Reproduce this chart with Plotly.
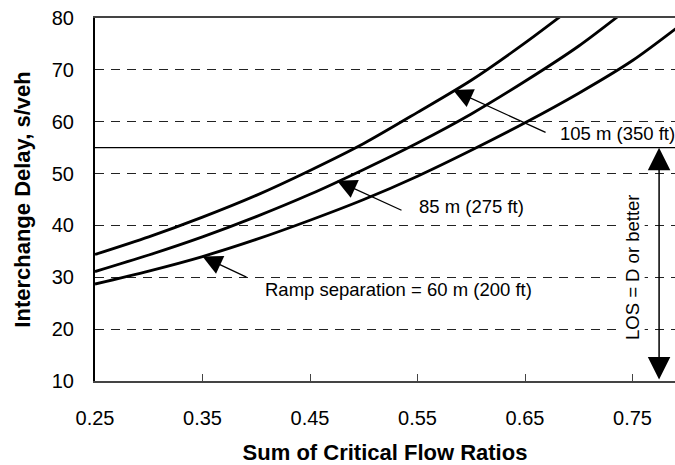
import plotly.graph_objects as go

# Sum of critical flow ratios (x) sampled every 0.05
flow_ratio = [0.25, 0.30, 0.35, 0.40, 0.45, 0.50, 0.55, 0.60, 0.65, 0.70, 0.75, 0.80]

# Interchange delay (s/veh) for each ramp separation
delay_105m = [34.4, 37.8, 41.6, 45.8, 50.6, 55.8, 61.8, 68.0, 75.2, 83.0, None, None]
delay_85m = [31.1, 34.3, 37.8, 41.7, 46.0, 50.8, 55.9, 61.5, 67.8, 74.6, 82.5, None]
delay_60m = [28.7, 31.2, 34.0, 37.3, 41.0, 45.0, 49.5, 54.5, 59.8, 65.5, 71.8, 79.5]

x_ticks = [0.25, 0.35, 0.45, 0.55, 0.65, 0.75]
y_ticks = [10, 20, 30, 40, 50, 60, 70, 80]
los_threshold = 55

FONT = "Liberation Sans, Arial, sans-serif"

fig = go.Figure()
for ys, name in [(delay_105m, "105 m (350 ft)"), (delay_85m, "85 m (275 ft)"),
                 (delay_60m, "Ramp separation = 60 m (200 ft)")]:
    fig.add_trace(go.Scatter(
        x=flow_ratio, y=ys, mode="lines", name=name,
        line=dict(color="black", width=2.8, shape="spline", smoothing=0.8),
        connectgaps=False, showlegend=False, hoverinfo="skip"))

# LOS D threshold line
fig.add_shape(type="line", xref="paper", x0=0, x1=1, yref="y", y0=los_threshold, y1=los_threshold,
              line=dict(color="black", width=1.3))

# Curve labels with leader arrows
labels = [
    # text, tip x, tip y, tail x, tail y, text x, text y
    ("105 m (350 ft)", 0.583, 66.1, 0.6705, 57.8, 0.6807, 57.8),
    ("85 m (275 ft)", 0.4751, 48.6, 0.5365, 42.8, 0.5495, 43.6),
    ("Ramp separation = 60 m (200 ft)", 0.35, 34.0, 0.3923, 29.9, 0.4065, 27.6),
]
for text, tx, ty, ax, ay, lx, ly in labels:
    fig.add_annotation(x=tx, y=ty, ax=ax, ay=ay, xref="x", yref="y", axref="x", ayref="y",
                       text="", showarrow=True, arrowhead=2, arrowsize=3.0, arrowwidth=1.3,
                       arrowcolor="black", standoff=0)
    fig.add_annotation(x=lx, y=ly, xref="x", yref="y", text=text, showarrow=False,
                       xanchor="left", yanchor="middle",
                       font=dict(family=FONT, size=18.5, color="black"))

# Double-headed arrow marking the LOS D-or-better range
fig.add_annotation(x=0.7747, y=los_threshold, ax=0.7747, ay=10, xref="x", yref="y",
                   axref="x", ayref="y", text="", showarrow=True,
                   arrowhead=2, startarrowhead=2, arrowside="end+start",
                   arrowsize=3.0, startarrowsize=3.0, arrowwidth=1.5,
                   arrowcolor="black", standoff=0, startstandoff=0)
fig.add_annotation(x=0.7505, y=32.0, xref="x", yref="y", text="LOS = D or better",
                   showarrow=False, textangle=-90, bgcolor="white",
                   font=dict(family=FONT, size=18.5, color="black"))

fig.update_layout(
    width=675, height=465,
    margin=dict(l=95, r=0, t=18, b=84),
    paper_bgcolor="white", plot_bgcolor="white",
    font=dict(family=FONT, color="black"),
    showlegend=False,
)
fig.update_xaxes(
    range=[0.25, 0.7895], tickvals=x_ticks, ticktext=[f"{v:.2f}" for v in x_ticks],
    showgrid=False, zeroline=False, automargin=False,
    showline=True, linecolor="#444444", linewidth=2, mirror=True,
    ticks="inside", ticklen=7, tickwidth=1, tickcolor="#444444",
    tickfont=dict(family=FONT, size=20, color="black"), ticklabelstandoff=18,
    title=dict(text="<b>Sum of Critical Flow Ratios</b>", standoff=26,
               font=dict(family=FONT, size=22, color="black")),
)
fig.update_yaxes(
    range=[10, 80], tickvals=y_ticks, automargin=False,
    showgrid=True, gridcolor="#222222", gridwidth=1, griddash="9px,7px",
    zeroline=False, showline=True, linecolor="black", linewidth=2,
    ticks="", tickfont=dict(family=FONT, size=20, color="black"), ticklabelstandoff=15,
    title=dict(text="<b>Interchange Delay, s/veh</b>", standoff=15,
               font=dict(family=FONT, size=22, color="black")),
)

fig.write_html("out.html")
